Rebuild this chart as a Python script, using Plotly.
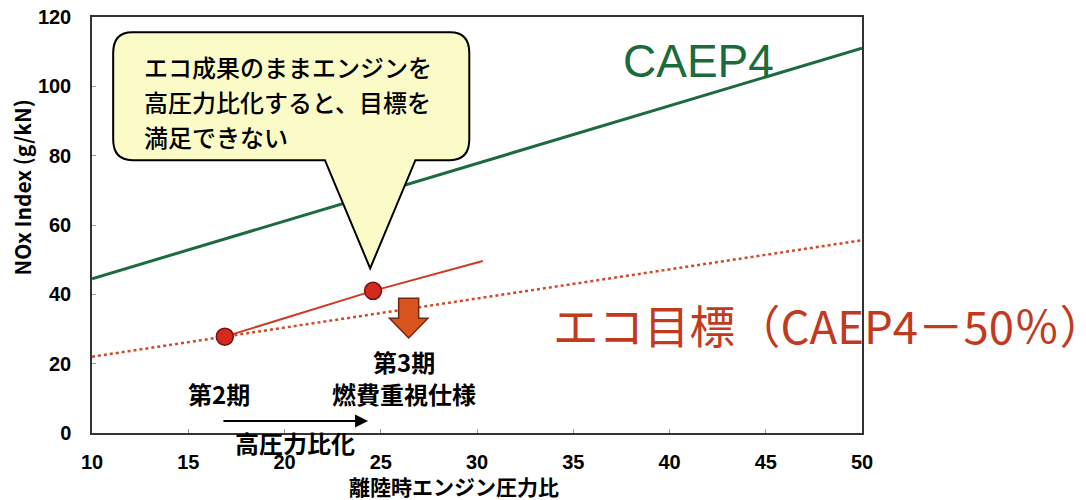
import plotly.graph_objects as go

# CAEP4 regulation line and eco target (CAEP4 -50%)
caep4_x = [10, 50]
caep4_y = [44.5, 111]
eco_x = [10, 50]
eco_y = [22, 55.6]

# engine points (2nd / 3rd phase) and their trend
engine_x = [16.9, 24.6]
engine_y = [27.8, 41.0]
trend_x = [16.9, 24.6, 30.3]
trend_y = [27.8, 41.0, 49.6]

x_ticks = [10, 15, 20, 25, 30, 35, 40, 45, 50]
y_ticks = [0, 20, 40, 60, 80, 100, 120]

jp = "Noto Sans CJK JP"
num_font = "Liberation Sans Narrow, Arial Narrow, Liberation Sans, sans-serif"

fig = go.Figure()

fig.add_trace(go.Scatter(x=caep4_x, y=caep4_y, mode="lines",
                         line=dict(color="#1b6b3c", width=3), showlegend=False))
fig.add_trace(go.Scatter(x=eco_x, y=eco_y, mode="lines",
                         line=dict(color="#cf4a2c", width=2.5, dash="dot"), showlegend=False))
fig.add_trace(go.Scatter(x=trend_x, y=trend_y, mode="lines",
                         line=dict(color="#cf3a22", width=2), showlegend=False))
fig.add_trace(go.Scatter(x=engine_x, y=engine_y, mode="markers",
                         marker=dict(size=17, color="#d42a1e",
                                     line=dict(color="#7a1010", width=1.5)),
                         showlegend=False))

# speech bubble (rounded box + tail), data coords
bx0, bx1, by0, by1 = 11.1, 29.6, 78.7, 115.6
rx, ry = 1.0, 6.0
tail_l, tail_r, tip_x, tip_y = 22.1, 26.8, 24.45, 47.5
bubble = (
    f"M {bx0+rx},{by1} L {bx1-rx},{by1} Q {bx1},{by1} {bx1},{by1-ry} "
    f"L {bx1},{by0+ry} Q {bx1},{by0} {bx1-rx},{by0} "
    f"L {tail_r},{by0} L {tip_x},{tip_y} L {tail_l},{by0} "
    f"L {bx0+rx},{by0} Q {bx0},{by0} {bx0},{by0+ry} "
    f"L {bx0},{by1-ry} Q {bx0},{by1} {bx0+rx},{by1} Z"
)
fig.add_shape(type="path", path=bubble, xref="x", yref="y",
              fillcolor="#fbfbc8", line=dict(color="black", width=2), layer="above")

# fat down arrow
ax_c, a_top, a_mid, a_tip = 26.45, 38.9, 33.1, 27.4
shaft, head = 0.52, 1.0
down_arrow = (
    f"M {ax_c-shaft},{a_top} L {ax_c+shaft},{a_top} L {ax_c+shaft},{a_mid} "
    f"L {ax_c+head},{a_mid} L {ax_c},{a_tip} L {ax_c-head},{a_mid} "
    f"L {ax_c-shaft},{a_mid} Z"
)
fig.add_shape(type="path", path=down_arrow, xref="x", yref="y",
              fillcolor="#d9541f", line=dict(color="#6e2a12", width=1.5))

bubble_lines = ["エコ成果のままエンジンを", "高圧力比化すると、目標を", "満足できない"]
annotations = []
for i, line in enumerate(bubble_lines):
    annotations.append(dict(x=12.6, y=105.8 - i * 10.1, xref="x", yref="y",
                            xanchor="left", text=line,
                            font=dict(family=jp, size=24, color="black", weight=500)))

annotations += [
    dict(x=41.5, y=107.2, xref="x", yref="y", text="CAEP4",
         font=dict(family="Liberation Sans, Arial, sans-serif", size=46, color="#1b6b3c")),
    dict(x=0.596, y=31.4, xref="paper", yref="y", xanchor="left",
         text="エコ目標（CAEP4－50％）",
         font=dict(family=jp, size=45.5, color="#c23a1e")),
    dict(x=26.2, y=20.5, xref="x", yref="y", text="<b>第3期</b>",
         font=dict(family=jp, size=24, color="black")),
    dict(x=26.2, y=11.5, xref="x", yref="y", text="<b>燃費重視仕様</b>",
         font=dict(family=jp, size=24, color="black")),
    dict(x=16.62, y=11.5, xref="x", yref="y", text="<b>第2期</b>",
         font=dict(family=jp, size=24, color="black")),
    dict(x=24.34, y=3.46, ax=16.75, ay=3.46, xref="x", yref="y", axref="x", ayref="y",
         text="", showarrow=True, arrowhead=2, arrowsize=1.3, arrowwidth=2,
         arrowcolor="black"),
    dict(x=20.55, y=0, xref="x", yref="y", yshift=-9, text="<b>高圧力比化</b>",
         font=dict(family=jp, size=24, color="black")),
    # axis titles (both sit off-centre in the original)
    dict(x=0.47, y=0, xref="paper", yref="paper", yanchor="top", yshift=-36,
         text="<b>離陸時エンジン圧力比</b>", font=dict(family=jp, size=21, color="black")),
    dict(x=0, y=0.59, xref="paper", yref="paper", xanchor="center", yanchor="middle",
         xshift=-70, textangle=-90,
         text="<b>NOx Index (g/kN)</b>", font=dict(family=jp, size=21, color="black")),
]
for a in annotations:
    a.setdefault("showarrow", False)
    fig.add_annotation(**a)

# page body has an 8px margin, so the figure is 8px smaller than the window
fig.update_layout(
    width=1078, height=492,
    margin=dict(l=84, r=224, t=9, b=67),
    plot_bgcolor="white", paper_bgcolor="white",
    font=dict(family=num_font, size=18, color="black"),
)
fig.update_xaxes(range=[10, 50], tickvals=x_ticks, showgrid=False, zeroline=False,
                 automargin=False, ticklabeloverflow="allow",
                 showline=True, linecolor="#333", linewidth=1.5, mirror=True,
                 ticks="inside", ticklen=4, tickcolor="#999", ticklabelstandoff=10,
                 tickfont=dict(family=num_font, size=20, weight="bold"))
fig.update_yaxes(range=[0, 120], tickvals=y_ticks, showgrid=False, zeroline=False,
                 automargin=False, ticklabeloverflow="allow",
                 showline=True, linecolor="#333", linewidth=1.5, mirror=True,
                 ticks="inside", ticklen=4, tickcolor="#999", ticklabelstandoff=15,
                 tickfont=dict(family=num_font, size=20, weight="bold"))

fig.write_html("out.html")
